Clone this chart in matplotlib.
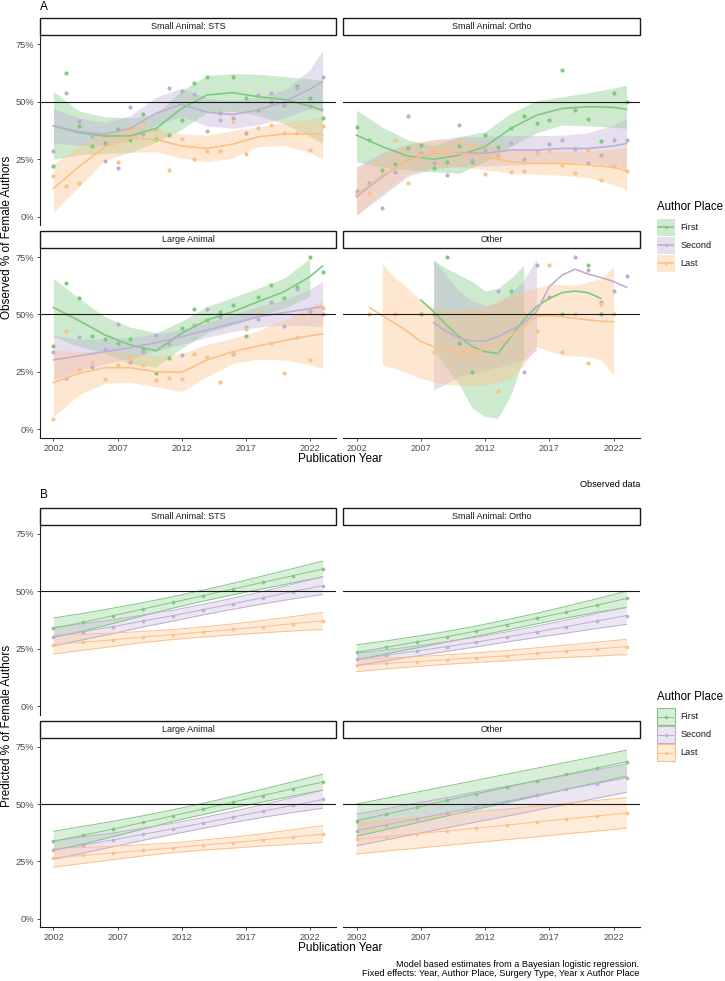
import numpy as np
import matplotlib
matplotlib.use("Agg")
import matplotlib.pyplot as plt
from matplotlib.patches import Rectangle

plt.rcParams['font.family'] = ['Liberation Sans', 'DejaVu Sans']

places = ["First", "Second", "Last"]
colors = {"First": "#7FC97F", "Second": "#BEAED4", "Last": "#FDC086"}
panel_names = ["Small Animal: STS", "Small Animal: Ortho", "Large Animal", "Other"]

# ---- A: observed % female authors per year ----
years = list(range(2002, 2024))

sts_obs = {
    "First": [22.0, 62.7, 39.5, 30.8, 32.2, 38.3, 33.4, 44.5, 33.7, 35.5, 41.9,
              58.3, 60.6, 45.3, 60.6, 51.5, 46.4, 50.0, 48.5, 56.9, 51.8, 43.1],
    "Second": [28.7, 54.0, 41.8, 35.1, 24.2, 21.3, 47.9, 35.8, 38.0, 56.1, 54.8,
               53.4, 37.1, 41.9, 43.1, 36.6, 53.1, 53.7, 49.2, 56.1, 48.2, 60.9],
    "Last": [17.5, 13.5, 14.7, 36.5, 34.8, 23.9, 37.7, 40.9, 38.3, 20.3, 33.7,
             25.2, 28.4, 28.7, 41.2, 27.1, 38.7, 40.0, 36.6, 36.6, 29.0, 39.5],
}
ortho_obs = {
    "First": [39.2, 33.4, 20.3, 22.9, 29.7, 31.0, 21.0, 23.9, 30.8, 23.9, 35.5,
              30.5, 38.6, 44.0, 40.9, 41.9, 63.8, 46.3, 42.4, 32.8, 53.7, 50.0],
    "Second": [11.3, 14.5, 3.6, 19.6, 43.8, 27.6, 23.2, 18.1, 39.8, 24.5, 29.0,
               26.5, 32.2, 25.2, 28.8, 31.6, 33.4, 29.6, 23.5, 27.0, 33.4, 33.4],
    "Last": [9.7, 10.4, 18.0, 33.4, 14.8, 27.0, 29.0, 29.0, 33.4, 30.5, 18.7,
             26.1, 19.4, 19.7, 27.9, 28.7, 22.6, 19.1, 29.0, 16.0, 22.2, 20.0],
}
large_obs = {
    "First": [36.3, 63.8, 57.3, 40.5, 39.2, 37.4, 39.2, 34.8, 24.7, 31.2, 44.0,
              52.5, 47.4, 51.2, 54.1, 40.8, 57.7, 62.8, 57.0, 62.1, 75.0, 68.5],
    "Second": [33.7, 22.3, 40.2, 27.0, 34.8, 45.8, 29.5, 33.8, 41.1, 37.1, 32.4,
               45.3, 52.2, 49.0, 32.6, 44.4, 48.2, 55.6, 45.0, 61.0, 51.6, 50.3],
    "Last": [4.4, 42.9, 26.1, 29.5, 21.9, 28.1, 30.5, 28.0, 21.3, 22.5, 22.0,
             32.6, 31.6, 20.6, 33.1, 43.5, 50.5, 37.4, 24.5, 40.3, 30.2, 53.0],
}
other_obs = {
    "First": [None, None, None, None, None, 50.2, None, 75.1, 37.7, 25.1, None,
              None, 60.2, None, None, None, 50.2, None, 71.5, 50.2, None, None],
    "Second": [None, None, None, None, None, None, 50.2, None, None, None, None,
               60.2, None, 25.1, 71.5, 57.4, None, 75.0, 69.3, 55.6, 60.2, 66.7],
    "Last": [None, 50.2, None, 50.2, None, None, 33.5, None, 33.3, 33.3, 50.2,
             16.8, None, 50.2, 43.0, 71.5, 33.5, 50.2, 28.7, 54.6, 50.2, None],
}

# loess curves
fit_years = [2002, 2004, 2006, 2008, 2010, 2012, 2014, 2016, 2018, 2020, 2022, 2023]

sts_fit = {
    "First": [39.5, 36.6, 35.1, 35.2, 38.4, 47.1, 53.0, 54.0, 52.2, 51.0, 48.2, 46.4],
    "Second": [39.5, 37.0, 36.0, 38.4, 45.0, 49.0, 45.5, 44.5, 46.5, 50.0, 55.5, 58.8],
    "Last": [12.3, 21.8, 30.2, 34.1, 33.6, 30.8, 29.7, 31.6, 34.8, 36.0, 36.0, 35.7],
}
sts_lo = {
    "First": [25.0, 27.0, 27.5, 28.0, 32.5, 38.0, 45.5, 46.0, 44.0, 40.5, 35.0, 32.0],
    "Second": [32.0, 31.0, 31.0, 33.0, 40.0, 43.5, 39.5, 38.5, 40.0, 43.0, 47.0, 45.7],
    "Last": [2.2, 13.0, 24.5, 28.0, 28.3, 25.5, 24.0, 25.5, 30.5, 31.0, 28.0, 25.0],
}
sts_hi = {
    "First": [54.5, 46.0, 43.5, 43.0, 44.5, 55.0, 61.5, 62.3, 62.0, 61.0, 60.0, 59.5],
    "Second": [47.0, 43.0, 41.0, 44.0, 52.0, 56.0, 51.5, 50.5, 52.0, 55.0, 64.0, 72.5],
    "Last": [23.0, 30.5, 36.0, 40.0, 38.5, 36.0, 35.5, 37.5, 39.2, 41.0, 42.5, 44.2],
}

ortho_fit = {
    "First": [35.5, 30.5, 26.4, 25.0, 26.8, 30.5, 38.4, 44.2, 47.1, 47.9, 47.6, 46.7],
    "Second": [8.7, 17.4, 24.7, 27.6, 27.9, 27.6, 29.0, 29.0, 29.7, 29.7, 30.8, 31.9],
    "Last": [9.4, 18.1, 24.4, 27.9, 27.6, 26.1, 23.9, 23.2, 23.2, 22.5, 21.5, 20.0],
}
ortho_lo = {
    "First": [23.9, 21.5, 20.3, 19.5, 18.9, 24.0, 30.5, 36.5, 39.9, 39.5, 39.0, 38.4],
    "Second": [0.7, 9.0, 17.5, 21.0, 21.8, 22.0, 22.5, 23.0, 23.9, 23.5, 22.0, 21.0],
    "Last": [0.7, 10.0, 18.5, 21.5, 21.8, 20.5, 18.9, 18.5, 18.0, 17.0, 14.0, 11.6],
}
ortho_hi = {
    "First": [46.4, 39.0, 33.4, 31.0, 34.8, 37.0, 45.0, 50.5, 52.2, 54.0, 56.0, 57.3],
    "Second": [21.8, 28.0, 31.5, 33.5, 34.8, 35.0, 35.3, 35.4, 35.5, 36.5, 40.0, 42.8],
    "Last": [21.0, 27.0, 31.5, 33.5, 33.4, 31.5, 29.5, 28.5, 28.5, 28.5, 29.5, 30.5],
}

large_fit = {
    "First": [53.0, 47.3, 41.1, 36.7, 34.2, 41.8, 47.6, 51.2, 55.6, 59.9, 66.4, 71.1],
    "Second": [30.2, 32.0, 33.8, 35.5, 37.7, 40.3, 43.2, 46.1, 49.0, 50.8, 52.5, 53.4],
    "Last": [20.3, 24.4, 26.8, 26.8, 25.1, 24.8, 30.2, 33.8, 36.3, 38.6, 40.7, 41.5],
}
large_lo = {
    "First": [40.3, 36.0, 33.1, 28.5, 27.0, 35.3, 42.0, 45.4, 49.0, 52.7, 57.7, None],
    "Second": [21.5, 25.5, 28.5, 31.0, 34.0, 37.0, 40.0, 42.5, 44.5, 45.4, 45.0, 44.7],
    "Last": [5.5, 15.0, 20.0, 20.5, 18.5, 16.4, 23.0, 28.7, 30.5, 30.2, 28.0, 26.5],
}
large_hi = {
    "First": [65.7, 57.0, 49.0, 44.5, 42.0, 47.0, 53.5, 57.4, 61.5, 65.7, 74.4, None],
    "Second": [41.0, 39.0, 39.5, 40.0, 41.5, 43.5, 46.5, 50.0, 53.5, 56.3, 61.0, 64.3],
    "Last": [34.5, 33.8, 33.8, 33.2, 32.0, 33.1, 37.0, 39.6, 43.0, 47.6, 53.0, 56.3],
}

# "Other" has sparse data, so its curves are kept per year (2002-2023)
other_fit = {
    "First": [None, None, None, None, None, 56.3, 51.2, 45.4, 40.3, 36.0, 33.8,
              33.0, 40.3, 47.6, 53.4, 57.0, 59.5, 60.2, 59.5, 57.0, None, None],
    "Second": [None, None, None, None, None, None, 46.4, 42.5, 39.6, 38.4, 38.4,
               40.3, 43.2, 46.1, 51.2, 62.1, 67.2, 69.7, 67.6, 66.1, 64.3, 61.8],
    "Last": [None, 53.0, 49.5, 46.1, 42.5, 38.2, 36.0, 34.5, 33.8, 33.8, 34.9,
             36.7, 40.8, 44.7, 49.3, 49.5, 49.0, 48.3, 47.6, 47.1, 46.8, None],
}
other_lo = {
    "First": [None, None, None, None, None, None, 35.0, 27.0, 19.3, 9.2, 5.5,
              4.8, 14.9, 30.9, None, None, None, None, None, None, None, None],
    "Second": [None, None, None, None, None, None, 17.0, 20.0, 22.9, 24.5, 25.5,
               27.0, 28.5, 30.0, 34.5, None, None, None, None, None, None, None],
    "Last": [None, None, 28.0, 26.5, 24.4, 22.2, 20.5, 19.3, 19.3, 19.3, 19.3,
             20.5, 22.2, 28.0, 36.0, 34.0, 32.4, 32.0, 31.5, 30.2, 23.6, None],
}
other_hi = {
    "First": [None, None, None, None, None, None, 73.7, 70.0, 67.2, 64.3, 60.2,
              61.4, 65.7, 71.5, None, None, None, None, None, None, None, None],
    "Second": [None, None, None, None, None, None, 74.0, 67.0, 60.0, 56.0, 54.0,
               55.0, 59.0, 65.0, 74.0, None, None, None, None, None, None, None],
    "Last": [None, None, 72.0, 66.0, 61.4, 56.0, 53.0, 52.0, 52.5, 53.0, 53.4,
             56.0, 58.0, 60.0, 61.5, 63.1, 63.0, 62.8, 64.0, 65.7, 70.8, None],
}

# ---- B: model based estimates ----
model_years = [2002, 2004.33, 2006.67, 2009, 2011.33, 2013.67, 2016, 2018.33, 2020.67, 2023]

sts_est = {
    "First": [34.0, 36.5, 39.4, 42.3, 45.2, 48.1, 51.0, 53.9, 56.8, 59.7],
    "Second": [30.2, 32.4, 34.6, 37.1, 39.4, 42.0, 44.6, 47.2, 49.9, 52.5],
    "Last": [26.7, 27.8, 28.9, 30.1, 31.1, 32.3, 33.4, 34.6, 35.9, 37.1],
}
sts_est_lo = {
    "First": [30.0, 32.7, 36.0, 39.4, 42.7, 45.7, 48.5, 51.1, 53.7, 56.3],
    "Second": [26.2, 28.9, 31.6, 34.5, 37.0, 39.7, 42.2, 44.5, 46.7, 48.6],
    "Last": [22.7, 24.3, 26.0, 27.7, 29.0, 30.1, 31.0, 31.9, 32.7, 33.4],
}
sts_est_hi = {
    "First": [38.4, 40.4, 42.7, 45.1, 47.7, 50.5, 53.5, 56.7, 59.9, 63.2],
    "Second": [34.2, 35.9, 37.6, 39.7, 41.8, 44.3, 47.0, 49.9, 53.1, 56.4],
    "Last": [30.8, 31.3, 31.8, 32.5, 33.3, 34.5, 35.8, 37.3, 39.0, 40.8],
}

ortho_est = {
    "First": [23.4, 25.6, 27.9, 30.2, 32.7, 35.5, 38.2, 41.0, 43.9, 46.9],
    "Second": [20.3, 22.1, 24.0, 25.9, 27.9, 30.1, 32.3, 34.6, 37.1, 39.4],
    "Last": [17.7, 18.6, 19.3, 20.2, 21.1, 21.9, 23.0, 24.0, 24.9, 25.9],
}
ortho_est_lo = {
    "First": [20.1, 22.8, 25.3, 27.9, 30.4, 33.1, 35.8, 38.4, 40.9, 43.0],
    "Second": [17.7, 19.7, 21.8, 23.8, 25.8, 27.9, 29.9, 31.8, 33.8, 35.6],
    "Last": [15.0, 16.2, 17.2, 18.2, 19.0, 19.7, 20.5, 21.2, 21.8, 22.4],
}
ortho_est_hi = {
    "First": [26.7, 28.4, 30.4, 32.5, 34.9, 37.6, 40.4, 43.5, 46.7, 50.1],
    "Second": [23.0, 24.5, 26.2, 28.0, 30.0, 32.3, 34.8, 37.5, 40.3, 43.0],
    "Last": [20.3, 20.9, 21.5, 22.3, 23.2, 24.2, 25.4, 26.6, 27.8, 29.1],
}

large_est = {
    "First": [33.7, 36.4, 39.1, 42.0, 44.9, 47.8, 50.8, 53.7, 56.7, 59.6],
    "Second": [29.9, 32.1, 34.4, 36.8, 39.2, 41.7, 44.3, 46.9, 49.4, 52.0],
    "Last": [26.5, 27.6, 28.7, 29.8, 30.9, 32.1, 33.2, 34.4, 35.6, 36.9],
}
large_est_lo = {
    "First": [29.8, 32.6, 35.8, 39.1, 42.4, 45.4, 48.3, 50.9, 53.5, 56.1],
    "Second": [25.9, 28.6, 31.4, 34.2, 36.8, 39.4, 41.9, 44.2, 46.3, 48.2],
    "Last": [22.5, 24.1, 25.8, 27.4, 28.8, 29.9, 30.8, 31.7, 32.5, 33.2],
}
large_est_hi = {
    "First": [38.1, 40.3, 42.5, 44.9, 47.5, 50.3, 53.3, 56.5, 59.7, 63.0],
    "Second": [34.0, 35.7, 37.4, 39.5, 41.6, 44.1, 46.8, 49.7, 52.8, 56.0],
    "Last": [30.6, 31.1, 31.6, 32.3, 33.1, 34.3, 35.6, 37.1, 38.8, 40.6],
}

other_est = {
    "First": [42.7, 45.6, 48.5, 51.6, 54.5, 57.3, 60.2, 62.9, 65.7, 68.5],
    "Second": [38.4, 41.0, 43.5, 46.1, 48.7, 51.2, 53.8, 56.4, 58.9, 61.5],
    "Last": [34.6, 35.8, 37.1, 38.2, 39.5, 40.8, 42.2, 43.5, 44.8, 46.1],
}
other_est_lo = {
    "First": [36.0, 38.9, 41.8, 44.8, 47.7, 50.6, 53.5, 56.4, 59.3, 62.2],
    "Second": [31.8, 34.4, 37.0, 39.6, 42.2, 44.7, 47.3, 49.9, 52.5, 55.1],
    "Last": [28.2, 29.5, 30.7, 32.0, 33.2, 34.5, 35.7, 37.0, 38.2, 39.5],
}
other_est_hi = {
    "First": [50.0, 52.6, 55.2, 57.8, 60.4, 63.0, 65.6, 68.2, 70.8, 73.5],
    "Second": [45.6, 48.0, 50.4, 52.8, 55.3, 57.7, 60.1, 62.5, 65.0, 67.4],
    "Last": [41.6, 42.8, 44.1, 45.3, 46.6, 47.8, 49.1, 50.3, 51.6, 52.8],
}

y_ticks = [0, 25, 50, 75]
y_labels = ["0%", "25%", "50%", "75%"]
x_ticks = [2002, 2007, 2012, 2017, 2022]

# ---- layout (pixels) ----
W, H = 725, 981
fig = plt.figure(figsize=(W / 100, H / 100), dpi=100)


def box(x0, y0, x1, y1):
    return [x0 / W, 1 - y1 / H, (x1 - x0) / W, (y1 - y0) / H]


cols = [(40, 336), (343, 640)]
rows_a = [(18, 35.8, 225.3), (230.7, 248.4, 437.9)]
rows_b = [(507.7, 525.4, 714.6), (720.7, 738.1, 927.3)]


def make_panel(r, c, rows, name):
    s0, p0, p1 = rows[r]
    x0, x1 = cols[c]
    sax = fig.add_axes(box(x0, s0, x1, p0 - 0.4))
    sax.set_axis_off()
    sax.add_patch(Rectangle((0, 0), 1, 1, transform=sax.transAxes, facecolor="white",
                            edgecolor="#1a1a1a", lw=1.0, clip_on=False))
    sax.text(0.5, 0.5, name, ha="center", va="center", fontsize=6.5, color="#1a1a1a",
             transform=sax.transAxes)

    ax = fig.add_axes(box(x0, p0, x1, p1))
    ax.set_xlim(2000.95, 2024.05)
    ax.set_ylim(-3.75, 78.75)
    ax.patch.set_alpha(0)
    for sp in ["top", "right"]:
        ax.spines[sp].set_visible(False)
    ax.spines["left"].set_visible(c == 0)
    ax.spines["bottom"].set_visible(r == 1)
    for sp in ["left", "bottom"]:
        ax.spines[sp].set_linewidth(0.8)
        ax.spines[sp].set_color("#1a1a1a")
    ax.set_yticks(y_ticks)
    ax.set_yticklabels(y_labels)
    ax.set_xticks(x_ticks)
    ax.tick_params(axis="both", length=2.2, width=0.6, color="#333333",
                   labelsize=6.7, labelcolor="#4d4d4d", pad=2)
    ax.tick_params(axis="y", left=(c == 0), labelleft=(c == 0))
    ax.tick_params(axis="x", bottom=(r == 1), labelbottom=(r == 1))
    ax.axhline(50, color="#1a1a1a", lw=0.8, zorder=5)
    return ax


def arr(v):
    return np.array(v, dtype=float)


def draw_observed(ax, obs, fx, fit, lo, hi):
    for p in places:
        ax.scatter(years, arr(obs[p]), s=9, color=colors[p], lw=0, zorder=2)
    for p in places:
        ax.fill_between(fx, arr(lo[p]), arr(hi[p]), color=colors[p], alpha=0.38, lw=0, zorder=1)
        ax.plot(fx, arr(fit[p]), color=colors[p], lw=1.2, zorder=3)


def draw_model(ax, est, lo, hi):
    for p in places:
        ax.fill_between(model_years, lo[p], hi[p], color=colors[p], alpha=0.3, lw=0, zorder=1)
        ax.plot(model_years, lo[p], color=colors[p], lw=0.7, zorder=2)
        ax.plot(model_years, hi[p], color=colors[p], lw=0.7, zorder=2)
        ax.plot(model_years, est[p], color=colors[p], lw=0.7, zorder=3)
        ax.scatter(model_years, est[p], s=7, color=colors[p], lw=0, zorder=3)


obs_sets = [
    (sts_obs, fit_years, sts_fit, sts_lo, sts_hi),
    (ortho_obs, fit_years, ortho_fit, ortho_lo, ortho_hi),
    (large_obs, fit_years, large_fit, large_lo, large_hi),
    (other_obs, years, other_fit, other_lo, other_hi),
]
model_sets = [
    (sts_est, sts_est_lo, sts_est_hi),
    (ortho_est, ortho_est_lo, ortho_est_hi),
    (large_est, large_est_lo, large_est_hi),
    (other_est, other_est_lo, other_est_hi),
]

for i, name in enumerate(panel_names):
    r, c = divmod(i, 2)
    ax = make_panel(r, c, rows_a, name)
    draw_observed(ax, *obs_sets[i])
    ax = make_panel(r, c, rows_b, name)
    draw_model(ax, *model_sets[i])

# ---- titles, labels, captions ----
fig.text(40 / W, 1 - 6.5 / H, "A", ha="left", va="center", fontsize=8.5)
fig.text(40 / W, 1 - 495 / H, "B", ha="left", va="center", fontsize=8.5)
fig.text(7.5 / W, 1 - 237 / H, "Observed % of Female Authors", rotation=90,
         ha="center", va="center", fontsize=8.5)
fig.text(7.5 / W, 1 - 726 / H, "Predicted % of Female Authors", rotation=90,
         ha="center", va="center", fontsize=8.5)
fig.text(340 / W, 1 - 459 / H, "Publication Year", ha="center", va="center", fontsize=8.5)
fig.text(340 / W, 1 - 948 / H, "Publication Year", ha="center", va="center", fontsize=8.5)
fig.text(640 / W, 1 - 484.3 / H, "Observed data", ha="right", va="center", fontsize=6.6)
fig.text(639.3 / W, 1 - 964.3 / H, "Model based estimates from a Bayesian logistic regression.",
         ha="right", va="center", fontsize=6.6)
fig.text(639.3 / W, 1 - 974 / H, "Fixed effects: Year, Author Place, Surgery Type, Year x Author Place",
         ha="right", va="center", fontsize=6.6)

# ---- legends ----
lax = fig.add_axes([0, 0, 1, 1])
lax.set_xlim(0, W)
lax.set_ylim(H, 0)
lax.set_axis_off()


def legend(title_y, key_ys, outlined):
    lax.text(656.7, title_y, "Author Place", ha="left", va="center", fontsize=8.3)
    for p, ky in zip(places, key_ys):
        lax.add_patch(Rectangle((657, ky - 8.5), 18, 17, facecolor=colors[p],
                                alpha=0.38 if not outlined else 0.3, lw=0))
        if outlined:
            lax.add_patch(Rectangle((657, ky - 8.5), 18, 17, facecolor="none",
                                    edgecolor=colors[p], lw=0.8))
        lax.plot([658.5, 673.5], [ky, ky], color=colors[p], lw=1.2 if not outlined else 0.7)
        lax.scatter([666], [ky], s=6, color=colors[p], lw=0)
        lax.text(680.7, ky, p, ha="left", va="center", fontsize=6.6, color="#1a1a1a")


legend(206.7, [227.3, 245.3, 263.3], False)
legend(696.7, [716.7, 734.7, 752.7], True)

fig.savefig("out.png", dpi=100)
